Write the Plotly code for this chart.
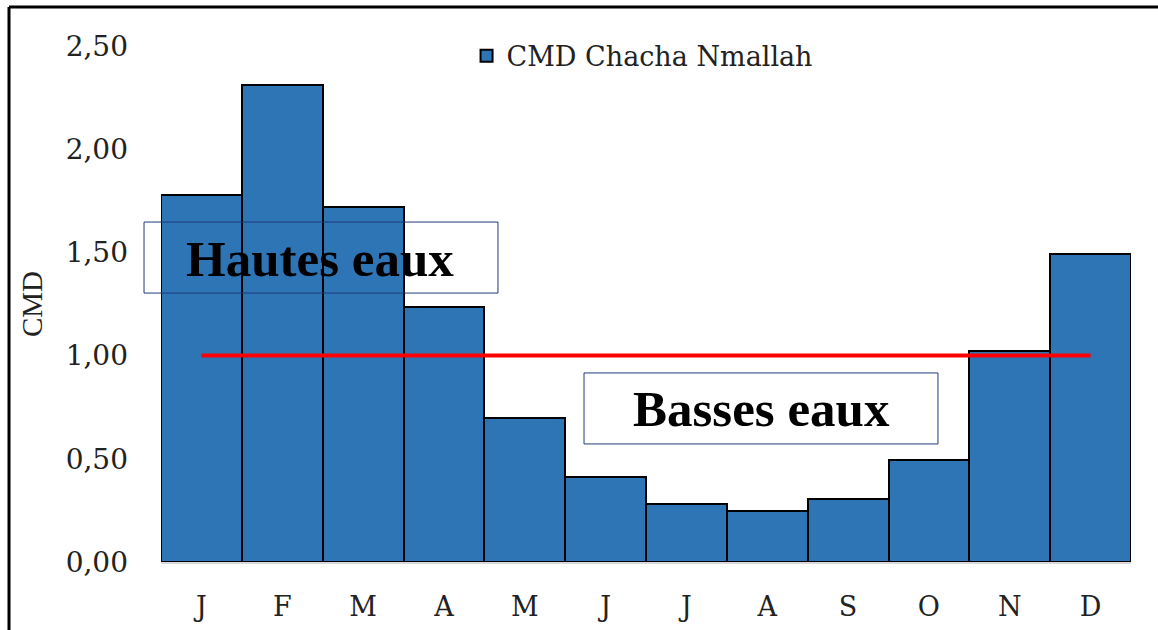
import plotly.graph_objects as go

months = ["J", "F", "M", "A", "M", "J", "J", "A", "S", "O", "N", "D"]
cmd = [1.78, 2.31, 1.72, 1.235, 0.70, 0.41, 0.28, 0.245, 0.305, 0.495, 1.02, 1.49]
threshold = 1.0
y_ticks = [0, 0.5, 1.0, 1.5, 2.0, 2.5]
y_ticktext = ["0,00", "0,50", "1,00", "1,50", "2,00", "2,50"]
series_name = "CMD Chacha Nmallah"

xpos = list(range(len(months)))

fig = go.Figure()
fig.add_trace(go.Bar(
    x=xpos, y=cmd, name=series_name,
    marker=dict(color="#2E75B6", line=dict(color="black", width=2)),
    width=1.0,
))
fig.add_trace(go.Scatter(
    x=[xpos[0], xpos[-1]], y=[threshold, threshold],
    mode="lines", line=dict(color="#FF0000", width=4),
    showlegend=False, hoverinfo="skip",
))

serif = "DejaVu Serif"
fig.update_layout(
    width=1158, height=630,
    margin=dict(l=161, r=27, t=46, b=68),
    paper_bgcolor="white", plot_bgcolor="white",
    bargap=0,
    showlegend=True,
    legend=dict(orientation="h", x=0.315, y=0.98, xanchor="left", yanchor="middle",
                font=dict(family=serif, size=27, color="#222222"),
                bgcolor="rgba(0,0,0,0)"),
    xaxis=dict(range=[-0.5, 11.5], tickmode="array", tickvals=xpos, ticktext=months,
               showgrid=False, zeroline=False, showline=True, linecolor="#D9D9D9", linewidth=2,
               tickfont=dict(family=serif, size=27, color="#222222"),
               ticks="", ticklabelstandoff=20, automargin=False),
    yaxis=dict(range=[0, 2.5], tickmode="array", tickvals=y_ticks, ticktext=y_ticktext,
               showgrid=False, zeroline=False, showline=False,
               tickfont=dict(family=serif, size=28, color="#222222"),
               ticks="", ticklabelstandoff=32, automargin=False,
               title=dict(text="CMD", font=dict(family="Liberation Serif", size=29, color="#222222"),
                          standoff=14)),
)

box_color = "#1F3A7A"
# Hautes eaux box
fig.add_shape(type="rect", xref="paper", yref="y", x0=-0.0175, x1=0.3474, y0=1.303, y1=1.647,
              line=dict(color=box_color, width=1), fillcolor="rgba(0,0,0,0)", layer="above")
fig.add_annotation(xref="paper", yref="y", x=(320 - 161) / 970, y=1.47, xanchor="center",
                   text="<b>Hautes eaux</b>",
                   showarrow=False, font=dict(family="Liberation Serif", size=51, color="black"))
# Basses eaux box
fig.add_shape(type="rect", xref="paper", yref="y", x0=0.4361, x1=0.8010, y0=0.572, y1=0.916,
              line=dict(color=box_color, width=1), fillcolor="white", layer="above")
fig.add_annotation(xref="paper", yref="y", x=(761 - 161) / 970, y=0.74, xanchor="center",
                   text="<b>Basses eaux</b>",
                   showarrow=False, font=dict(family="Liberation Serif", size=51, color="black"))

# outer frame (top and left visible)
fig.add_shape(type="line", xref="paper", yref="paper", x0=(9 - 161) / 970, x1=1.05,
              y0=(562 - 7) / 516, y1=(562 - 7) / 516, line=dict(color="black", width=3))
fig.add_shape(type="line", xref="paper", yref="paper", x0=(9 - 161) / 970, x1=(9 - 161) / 970,
              y0=(562 - 7) / 516, y1=-0.2, line=dict(color="black", width=3))

fig.write_html("out.html", config={"displayModeBar": False},
               post_script="document.body.style.margin='0px';")
